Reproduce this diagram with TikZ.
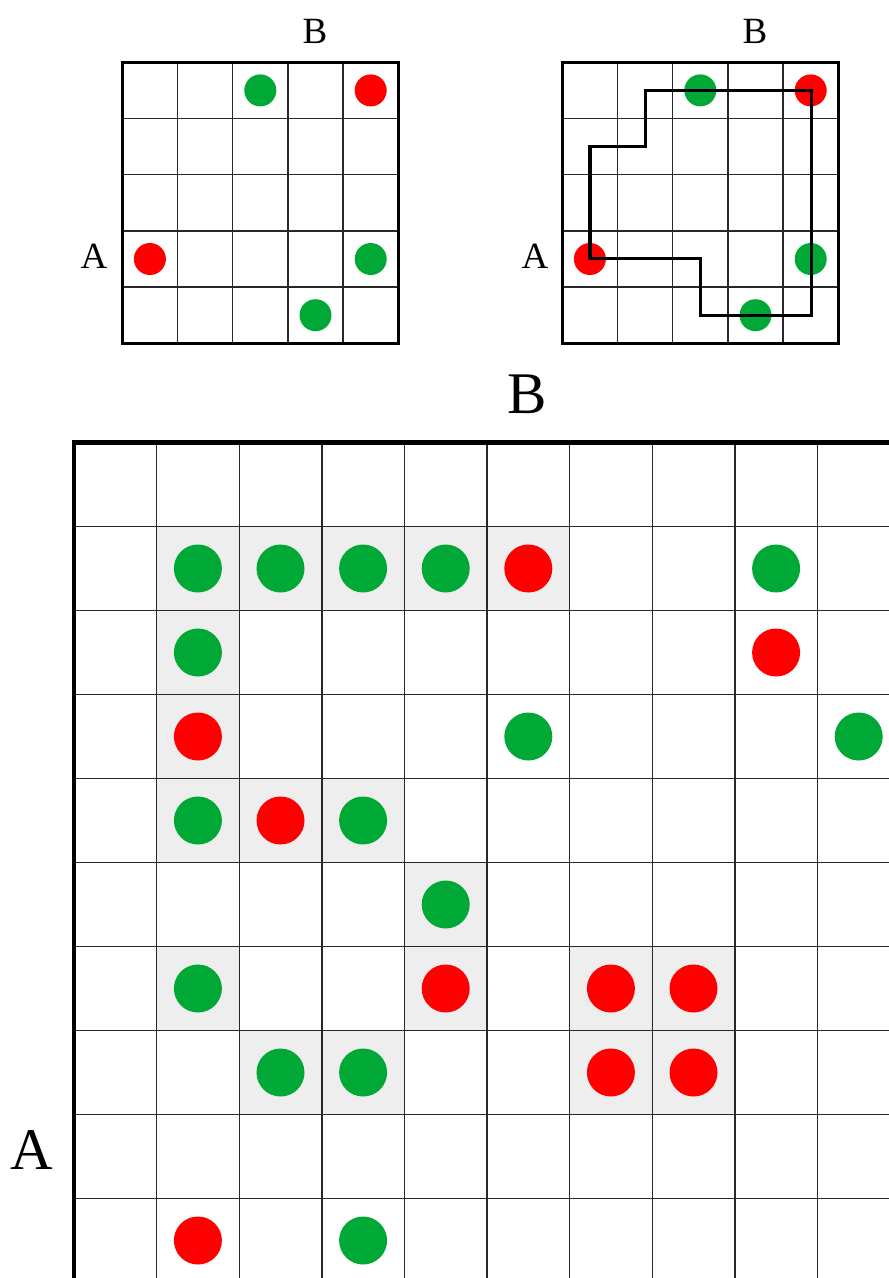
\documentclass[tikz,border=0pt]{standalone}
\usepackage{fontspec}
\setmainfont{Liberation Serif}
\definecolor{dotgreen}{RGB}{0,168,54}
\definecolor{dotred}{RGB}{255,0,0}
\definecolor{cellshade}{RGB}{238,238,238}
\definecolor{gridc}{RGB}{40,40,40}
\tikzset{
  thinline/.style={draw=gridc, line width=1.4pt},
  frameline/.style={draw=black, line width=3.3pt, line join=miter},
  bigframe/.style={draw=black, line width=4.4pt, line join=miter},
  routeline/.style={draw=black, line width=3.1pt, line join=miter},
  smalllabel/.style={inner sep=0pt, font=\fontsize{37}{40}\selectfont},
  biglabel/.style={inner sep=0pt, font=\fontsize{59}{62}\selectfont},
}
\begin{document}
\begin{tikzpicture}[x=1pt,y=-1pt]
\useasboundingbox (0,0) rectangle (889,1278);
\fill[white] (0,0) rectangle (889,1278);

% ---------- two small 5x5 grids ----------
\foreach \ox in {0,440}{
  \foreach \i in {1,...,4}{
    \draw[thinline] ({\ox+122.3+55.2*\i},62.3) -- ({\ox+122.3+55.2*\i},343.3);
    \draw[thinline] ({\ox+122.3},{62.3+56.2*\i}) -- ({\ox+398.3},{62.3+56.2*\i});
  }
  % dots: col/row
  \foreach \c/\r in {2/0,4/3,3/4}
    \fill[dotgreen] ({\ox+122.3+55.2*(\c+0.5)},{62.3+56.2*(\r+0.5)}) circle (16);
  \foreach \c/\r in {4/0,0/3}
    \fill[dotred] ({\ox+122.3+55.2*(\c+0.5)},{62.3+56.2*(\r+0.5)}) circle (16);
  \draw[frameline] ({\ox+122.3},62.3) rectangle ({\ox+398.3},343.3);
}
\node[smalllabel] (lb1) at (315,31) {B};
\node[smalllabel] (la1) at (94,256) {A};
\node[smalllabel] (lb2) at (755,31) {B};
\node[smalllabel] (la2) at (535,256) {A};

% route in right small grid
\coordinate (p1) at (590.0,258.9);
\coordinate (p2) at (700.4,258.9);
\coordinate (p3) at (700.4,315.2);
\coordinate (p4) at (811.8,315.2);
\coordinate (p5) at (811.8,90.4);
\coordinate (p6) at (645.2,90.4);
\coordinate (p7) at (645.2,146.6);
\coordinate (p8) at (590.0,146.6);
\draw[routeline] (p1) -- (p2) -- (p3) -- (p4) -- (p5) -- (p6) -- (p7) -- (p8) -- cycle;

% ---------- big grid ----------
\node[biglabel] (bigB) at (527,394) {B};
\node[biglabel] (bigA) at (32,1150) {A};

\begin{scope}
\clip (0,0) rectangle (889,1278);
\foreach \c/\r in {1/1,2/1,3/1,4/1,5/1,1/2,1/3,1/4,2/4,3/4,4/5,1/6,4/6,6/6,7/6,2/7,3/7,6/7,7/7}
  \fill[cellshade] ({74+82.6*\c},{442.5+84*\r}) rectangle +(82.6,84);
\foreach \i in {1,...,10}{
  \draw[thinline] ({74+82.6*\i},442.5) -- ({74+82.6*\i},1290);
  \draw[thinline] (74,{442.5+84*\i}) -- (900,{442.5+84*\i});
}
\foreach \c/\r in {1/1,2/1,3/1,4/1,8/1,1/2,5/3,9/3,1/4,3/4,4/5,1/6,2/7,3/7,3/9}
  \fill[dotgreen] ({115.3+82.6*\c},{484.5+84*\r}) circle (24);
\foreach \c/\r in {5/1,8/2,1/3,2/4,4/6,6/6,7/6,6/7,7/7,1/9}
  \fill[dotred] ({115.3+82.6*\c},{484.5+84*\r}) circle (24);
\draw[bigframe] (900,442.5) -- (74,442.5) -- (74,1290);
\end{scope}
\end{tikzpicture}
\end{document}
